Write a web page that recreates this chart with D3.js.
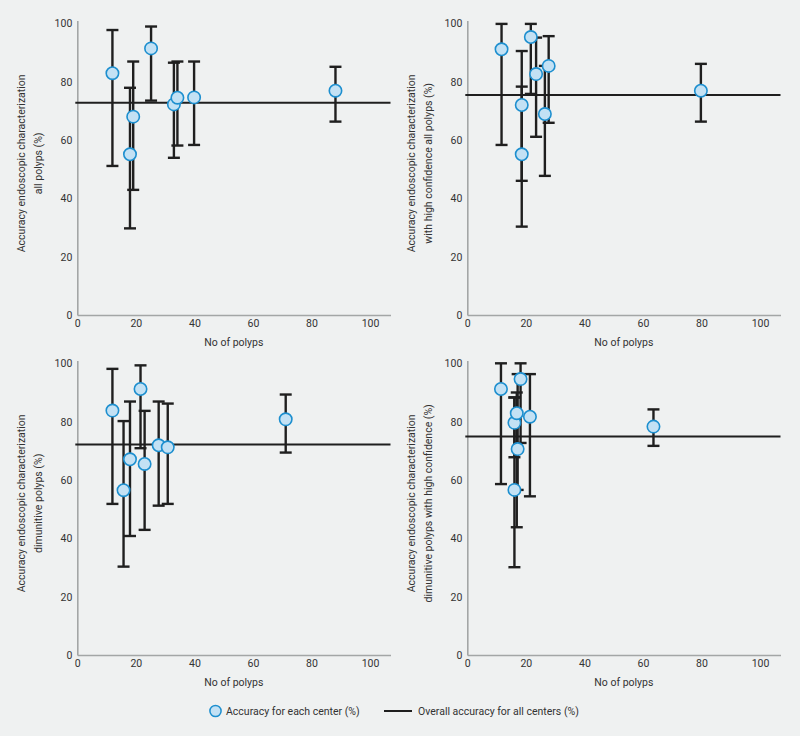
<!DOCTYPE html>
<html><head><meta charset="utf-8">
<script src="https://cdn.jsdelivr.net/npm/d3@7"></script>
<style>
body{margin:0;background:#eff1f1;}
svg{display:block;}
text{font-family:Roboto,"Open Sans",sans-serif;fill:#333;}
</style></head>
<body><svg id="c" width="800" height="736"></svg>
<script>
// ---- data ----
const tickValues = [0, 20, 40, 60, 80, 100];
const xLabel = "No of polyps";
const yLabels = [
  ["Accuracy endoscopic characterization", "all polyps (%)"],
  ["Accuracy endoscopic characterization", "with high confidence all polyps (%)"],
  ["Accuracy endoscopic characterization", "dimunitive polyps (%)"],
  ["Accuracy endoscopic characterization", "dimunitive polyps with high confidence (%)"]
];
const legendLabels = ["Accuracy for each center (%)", "Overall accuracy for all centers (%)"];

const x1 = [12.0, 18.0, 19.1, 25.2, 33.0, 34.2, 39.9, 88.2];
const y1 = [82.9, 55.1, 68.0, 91.4, 72.2, 74.5, 74.6, 76.9];
const lo1 = [51.1, 29.7, 42.9, 73.5, 53.9, 58.1, 58.3, 66.3];
const hi1 = [97.7, 77.9, 86.9, 98.9, 86.5, 86.9, 86.9, 85.1];
const overall1 = 72.8;

const x2 = [11.7, 18.6, 18.6, 21.7, 23.5, 26.5, 27.8, 79.8];
const y2 = [91.1, 72.0, 55.1, 95.3, 82.6, 68.9, 85.4, 76.9];
const lo2 = [58.3, 46.0, 30.3, 75.8, 61.1, 47.7, 65.9, 66.3];
const hi2 = [99.8, 90.5, 78.3, 99.8, 95.1, 85.4, 95.6, 86.1];
const overall2 = 75.4;

const x3 = [12.0, 15.8, 18.0, 21.6, 23.0, 27.8, 30.9, 71.2];
const y3 = [83.8, 56.5, 67.1, 91.2, 65.5, 71.9, 71.2, 80.8];
const lo3 = [51.8, 30.3, 40.8, 70.9, 42.9, 51.2, 51.8, 69.4];
const hi3 = [98.1, 80.2, 86.9, 99.3, 83.7, 86.9, 86.2, 89.3];
const overall3 = 72.2;

const x4 = [11.5, 16.1, 16.1, 16.9, 17.2, 18.2, 21.4, 63.6];
const y4 = [91.2, 56.6, 79.6, 82.9, 70.6, 94.6, 81.7, 78.3];
const lo4 = [58.6, 30.1, 67.8, 43.8, 56.6, 72.7, 54.4, 71.7];
const hi4 = [100, 88.3, 88.3, 90.0, 96.3, 100, 96.3, 84.2];
const overall4 = 74.9;

const panels = [
  {xs: x1, ys: y1, lo: lo1, hi: hi1, overall: overall1, label: yLabels[0]},
  {xs: x2, ys: y2, lo: lo2, hi: hi2, overall: overall2, label: yLabels[1]},
  {xs: x3, ys: y3, lo: lo3, hi: hi3, overall: overall3, label: yLabels[2]},
  {xs: x4, ys: y4, lo: lo4, hi: hi4, overall: overall4, label: yLabels[3]}
];

// ---- drawing ----
const svg = d3.select("#c");
const FS = 10.5;
const axisColor = "#a3a6a6";
const barColor = "#1f1f1f";
const ptFill = "#c3e1f4";
const ptStroke = "#1d8fcf";

panels.forEach((p, i) => {
  const col = i % 2, row = Math.floor(i / 2);
  const ox = 77.3 + col * 390;
  const oy = 315 + row * 340;
  const x = d3.scaleLinear().domain([0, 107]).range([ox, ox + 313.2]);
  const y = d3.scaleLinear().domain([0, 101]).range([oy, oy - 294.6]);
  const g = svg.append("g");

  const xa = g.append("g").attr("transform", `translate(0,${oy})`)
    .call(d3.axisBottom(x).tickValues(tickValues).tickSize(0).tickPadding(5));
  const ya = g.append("g").attr("transform", `translate(${ox},0)`)
    .call(d3.axisLeft(y).tickValues(tickValues).tickSize(0).tickPadding(5));
  [xa, ya].forEach(a => {
    a.select(".domain").attr("stroke", axisColor).attr("stroke-width", 1.6);
    a.selectAll("text").attr("font-size", FS).attr("fill", "#333")
      .style("font-family", "Roboto, 'Open Sans', sans-serif");
  });

  // x label
  g.append("text").attr("x", x(53.5)).attr("y", oy + 31)
    .attr("text-anchor", "middle").attr("font-size", FS).text(xLabel);
  // y label
  const cy = y(52);
  const lx = ox - 52;
  const yl = g.append("text").attr("transform", `translate(${lx},${cy}) rotate(-90)`)
    .attr("text-anchor", "middle").attr("font-size", FS);
  yl.append("tspan").attr("x", 0).attr("dy", 0).text(p.label[0]);
  yl.append("tspan").attr("x", 0).attr("dy", 16.5).text(p.label[1]);

  // overall line
  g.append("line").attr("x1", x(0) - 2).attr("x2", x(107))
    .attr("y1", y(p.overall)).attr("y2", y(p.overall))
    .attr("stroke", barColor).attr("stroke-width", 2);

  const data = p.xs.map((v, k) => ({x: v, y: p.ys[k], lo: p.lo[k], hi: p.hi[k]}));
  const eb = g.append("g").attr("stroke", barColor).attr("stroke-width", 2.4);
  data.forEach(d => {
    eb.append("line").attr("x1", x(d.x)).attr("x2", x(d.x)).attr("y1", y(d.lo)).attr("y2", y(d.hi));
    eb.append("line").attr("x1", x(d.x) - 6).attr("x2", x(d.x) + 6).attr("y1", y(d.lo)).attr("y2", y(d.lo));
    eb.append("line").attr("x1", x(d.x) - 6).attr("x2", x(d.x) + 6).attr("y1", y(d.hi)).attr("y2", y(d.hi));
  });
  g.append("g").selectAll("circle").data(data).join("circle")
    .attr("cx", d => x(d.x)).attr("cy", d => y(d.y)).attr("r", 6.2)
    .attr("fill", ptFill).attr("stroke", ptStroke).attr("stroke-width", 1.6);
});

// legend
const lg = svg.append("g");
lg.append("circle").attr("cx", 215.5).attr("cy", 711).attr("r", 5.6)
  .attr("fill", ptFill).attr("stroke", ptStroke).attr("stroke-width", 1.5);
lg.append("text").attr("x", 226).attr("y", 714.5).attr("font-size", FS).text(legendLabels[0]);
lg.append("line").attr("x1", 384).attr("x2", 412).attr("y1", 711).attr("y2", 711)
  .attr("stroke", barColor).attr("stroke-width", 2);
lg.append("text").attr("x", 418).attr("y", 714.5).attr("font-size", FS).text(legendLabels[1]);
</script></body></html>
